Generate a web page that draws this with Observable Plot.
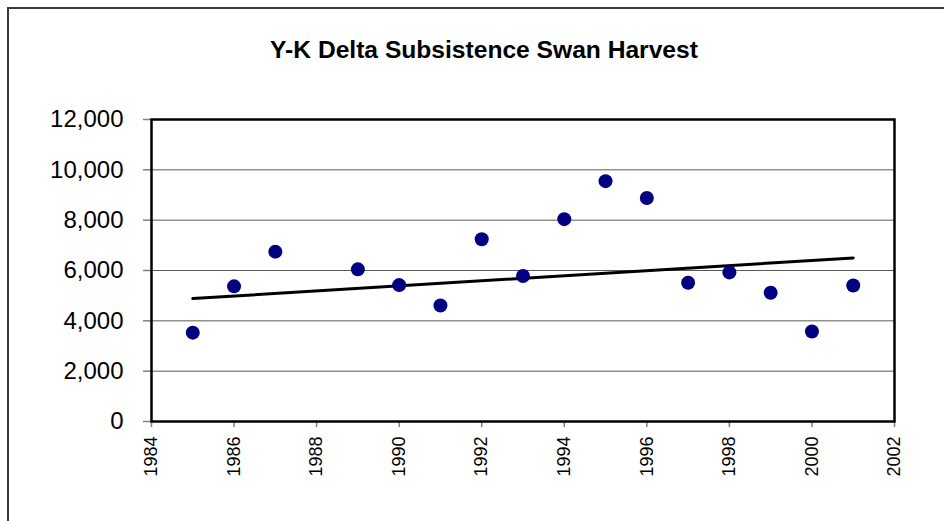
<!DOCTYPE html>
<html>
<head>
<meta charset="utf-8">
<script src="https://cdn.jsdelivr.net/npm/d3@7"></script>
<script src="https://cdn.jsdelivr.net/npm/@observablehq/plot@0.6"></script>
<style>
  html, body { margin: 0; padding: 0; background: #fff; }
  #wrap { position: relative; width: 944px; height: 521px; overflow: hidden; font-family: Arial, "Liberation Sans", sans-serif; }
  #border { position: absolute; left: 7px; top: 7px; width: 1000px; height: 1000px; border-left: 2px solid #3a3a3a; border-top: 2px solid #3a3a3a; }
  #title { position: absolute; left: 24px; width: 920px; top: 37px; line-height: 25px; font-size: 24.6px; font-weight: bold; text-align: center; color: #000; }
  #chart { position: absolute; left: 0; top: 80px; }
</style>
</head>
<body>
<div id="wrap">
  <div id="border"></div>
  <div id="title">Y-K Delta Subsistence Swan Harvest</div>
  <div id="chart"></div>
</div>
<script>
const titleText = "Y-K Delta Subsistence Swan Harvest";
const years = [1985, 1986, 1987, 1988, 1989, 1990, 1991, 1992, 1993, 1994, 1995, 1996, 1997, 1998, 1999, 2000, 2001];
const harvest = [3530, 5370, 6750, null, 6045, 5420, 4610, 7240, 5780, 8040, 9550, 8880, 5515, 5925, 5115, 3575, 5405];
const yTicks = [0, 2000, 4000, 6000, 8000, 10000, 12000];
const xTicks = [1984, 1986, 1988, 1990, 1992, 1994, 1996, 1998, 2000, 2002];

const data = years.map((year, i) => ({year, harvest: harvest[i]}));
const points = data.filter(d => d.harvest != null);

const chart = Plot.plot({
  width: 944,
  height: 441,
  marginLeft: 151,
  marginRight: 50,
  marginTop: 39,
  marginBottom: 100,
  style: { fontFamily: 'Arial, "Liberation Sans", sans-serif', color: "#000", background: "transparent" },
  x: { domain: [1984, 2002], ticks: xTicks },
  y: { domain: [0, 12000], ticks: yTicks },
  marks: [
    Plot.gridY(yTicks, { stroke: "#5a5a5a", strokeOpacity: 1, strokeWidth: 1 }),
    Plot.axisY(yTicks, { tickSize: 8, tickPadding: 20, fontSize: 24, stroke: "#808080", strokeWidth: 1.5, tickFormat: d3.format(","), label: null, fill: "#000" }),
    Plot.axisX(xTicks, { tickSize: 6, tickPadding: 9, tickRotate: -90, fontSize: 18, stroke: "#808080", strokeWidth: 1.5, tickFormat: d => String(d), label: null, fill: "#000" }),
    Plot.frame({ stroke: "#000", strokeWidth: 2.5 }),
    Plot.linearRegressionY(data, { x: "year", y: d => d.harvest ?? 0, ci: 0, stroke: "#000", strokeWidth: 3 }),
    Plot.dot(points, { x: "year", y: "harvest", r: 7, fill: "#000080", stroke: "none" })
  ]
});
document.getElementById("chart").appendChild(chart);
</script>
</body>
</html>
